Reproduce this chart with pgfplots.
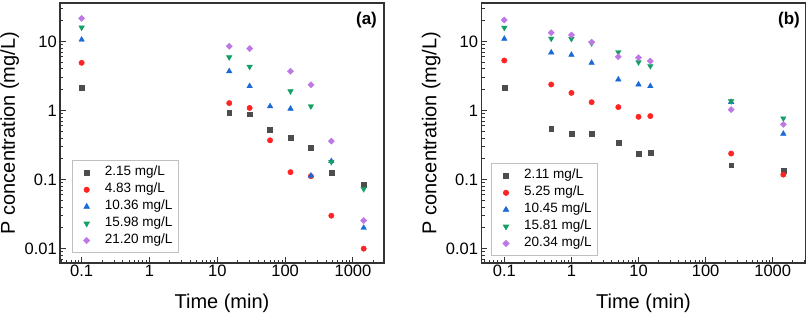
\documentclass[border=0pt]{standalone}
\usepackage{fontspec}
\setmainfont{Liberation Sans}
\usepackage{pgfplots}
\pgfplotsset{compat=1.18}
\definecolor{cBlack}{RGB}{77,77,77}
\definecolor{cRed}{RGB}{255,35,35}
\definecolor{cBlue}{RGB}{25,105,215}
\definecolor{cGreen}{RGB}{20,160,100}
\definecolor{cPurple}{RGB}{190,120,230}
\pgfplotsset{
  sBlack/.style={only marks, mark=square*, mark size=2.4pt, color=cBlack},
  sRed/.style={only marks, mark=*, mark size=2.7pt, color=cRed},
  sBlue/.style={only marks, mark=triangle*, mark size=3.2pt, color=cBlue},
  sGreen/.style={only marks, mark=triangle*, mark size=3.2pt, color=cGreen, mark options={rotate=180}},
  sPurple/.style={only marks, mark=square*, mark size=2.2pt, color=cPurple, mark options={rotate=45}},
}
\begin{document}
\begin{tikzpicture}
\path[use as bounding box] (-60pt,-54pt) rectangle (749pt,263pt);
\begin{axis}[xmode=log, ymode=log,
    scale only axis,
    height=260pt, width=324pt,
    at={(0pt,0pt)}, anchor=south west,
    xmin=0.048, xmax=2870,
    ymin=0.0062, ymax=36,
    axis line style={black!80, line width=1.1pt},
    every tick/.style={black!80, line width=0.9pt},
    major tick length=6pt, minor tick length=3.2pt,
    tick align=inside,
    xtick pos=bottom, ytick pos=left,
    xtick={0.1,1,10,100,1000},
    xticklabels={0.1,1,10,100,1000},
    minor xtick={0.05,0.06,0.07,0.08,0.09,0.2,0.3,0.4,0.5,0.6,0.7,0.8,0.9,2,3,4,5,6,7,8,9,20,30,40,50,60,70,80,90,200,300,400,500,600,700,800,900,2000},
    ytick={0.01,0.1,1,10},
    yticklabels={0.01,0.1,1,10},
    minor ytick={0.007,0.008,0.009,0.02,0.03,0.04,0.05,0.06,0.07,0.08,0.09,0.2,0.3,0.4,0.5,0.6,0.7,0.8,0.9,2,3,4,5,6,7,8,9,20,30},
    /pgf/number format/assume math mode=true,
    ticklabel style={font=\fontsize{16.5}{19}\selectfont},
    xticklabel style={inner sep=2pt},
    yticklabel style={inner sep=3pt},
    xlabel={Time (min)},
    ylabel={P concentration (mg/L)},
    every axis x label/.style={at={([yshift=-45pt]axis description cs:0.5,0)}, anchor=base, font=\fontsize{20}{24}\selectfont},
    every axis y label/.style={at={([xshift=-45pt]axis description cs:0,0.5)}, anchor=base, rotate=90, font=\fontsize{20}{24}\selectfont},
    legend cell align=left,
    legend image code/.code={\path[draw=none,fill=none] (0pt,-3pt) rectangle (27pt,3pt); \draw[#1] plot coordinates {(10.4pt,0pt)};},
    legend style={draw=gray!50, line width=0.6pt, font=\fontsize{13.5}{15}\selectfont,
      nodes={inner sep=1.6pt, text height=0.72em, text depth=0.2em},
      row sep=4.5pt, column sep=0pt, inner xsep=4pt, inner ysep=6pt,
      at={(rel axis cs:0,0)}, anchor=south west, xshift=12pt, yshift=10pt}]
\addplot[sBlack] coordinates {(0.1,2.15) (15,0.925) (30,0.885) (60,0.53) (120,0.40) (240,0.29) (480,0.125) (1440,0.085)};
\addlegendentry{2.15 mg/L}
\addplot[sRed] coordinates {(0.1,4.9) (15,1.28) (30,1.09) (60,0.37) (120,0.128) (240,0.112) (480,0.030) (1440,0.010)};
\addlegendentry{4.83 mg/L}
\addplot[sBlue] coordinates {(0.1,10.6) (15,3.7) (30,2.25) (60,1.15) (120,1.06) (240,0.114) (480,0.185) (1440,0.020)};
\addlegendentry{10.36 mg/L}
\addplot[sGreen] coordinates {(0.1,15.9) (15,5.9) (30,4.3) (120,1.9) (240,1.15) (480,0.18) (1440,0.073)};
\addlegendentry{15.98 mg/L}
\addplot[sPurple] coordinates {(0.1,21.5) (15,8.5) (30,7.9) (120,3.7) (240,2.36) (480,0.36) (1440,0.0255)};
\addlegendentry{21.20 mg/L}
\node[font=\fontsize{17}{20}\selectfont\bfseries] at (rel axis cs:0.946,0.935) {(a)};
\end{axis}
\begin{axis}[xmode=log, ymode=log,
    scale only axis,
    height=260pt, width=324.4pt,
    at={(421.3pt,0pt)}, anchor=south west,
    xmin=0.0454, xmax=3100,
    ymin=0.0062, ymax=36,
    axis line style={black!80, line width=1.1pt},
    every tick/.style={black!80, line width=0.9pt},
    major tick length=6pt, minor tick length=3.2pt,
    tick align=inside,
    xtick pos=bottom, ytick pos=left,
    xtick={0.1,1,10,100,1000},
    xticklabels={0.1,1,10,100,1000},
    minor xtick={0.05,0.06,0.07,0.08,0.09,0.2,0.3,0.4,0.5,0.6,0.7,0.8,0.9,2,3,4,5,6,7,8,9,20,30,40,50,60,70,80,90,200,300,400,500,600,700,800,900,2000,3000},
    ytick={0.01,0.1,1,10},
    yticklabels={0.01,0.1,1,10},
    minor ytick={0.007,0.008,0.009,0.02,0.03,0.04,0.05,0.06,0.07,0.08,0.09,0.2,0.3,0.4,0.5,0.6,0.7,0.8,0.9,2,3,4,5,6,7,8,9,20,30},
    /pgf/number format/assume math mode=true,
    ticklabel style={font=\fontsize{16.5}{19}\selectfont},
    xticklabel style={inner sep=2pt},
    yticklabel style={inner sep=3pt},
    xlabel={Time (min)},
    ylabel={P concentration (mg/L)},
    every axis x label/.style={at={([yshift=-45pt]axis description cs:0.5,0)}, anchor=base, font=\fontsize{20}{24}\selectfont},
    every axis y label/.style={at={([xshift=-45pt]axis description cs:0,0.5)}, anchor=base, rotate=90, font=\fontsize{20}{24}\selectfont},
    legend cell align=left,
    legend image code/.code={\path[draw=none,fill=none] (0pt,-3pt) rectangle (27pt,3pt); \draw[#1] plot coordinates {(10.4pt,0pt)};},
    legend style={draw=gray!50, line width=0.6pt, font=\fontsize{13.5}{15}\selectfont,
      nodes={inner sep=1.6pt, text height=0.72em, text depth=0.2em},
      row sep=4.5pt, column sep=0pt, inner xsep=4pt, inner ysep=6pt,
      at={(rel axis cs:0,0)}, anchor=south west, xshift=10pt, yshift=7pt}]
\addplot[sBlack] coordinates {(0.1,2.13) (0.5,0.54) (1,0.46) (2,0.46) (5,0.34) (10,0.236) (15,0.246) (240,0.161) (1440,0.136)};
\addlegendentry{2.11 mg/L}
\addplot[sRed] coordinates {(0.1,5.3) (0.5,2.38) (1,1.80) (2,1.32) (5,1.12) (10,0.81) (15,0.83) (240,0.238) (1440,0.118)};
\addlegendentry{5.25 mg/L}
\addplot[sBlue] coordinates {(0.1,10.9) (0.5,6.9) (1,6.4) (2,4.9) (5,2.81) (10,2.38) (15,2.25) (240,1.33) (1440,0.46)};
\addlegendentry{10.45 mg/L}
\addplot[sGreen] coordinates {(0.1,15.8) (0.5,11.0) (1,10.9) (2,9.4) (5,7.0) (10,5.0) (15,4.4) (240,1.36) (1440,0.77)};
\addlegendentry{15.81 mg/L}
\addplot[sPurple] coordinates {(0.1,20.4) (0.5,13.4) (1,12.4) (2,9.8) (5,6.0) (10,5.8) (15,5.2) (240,1.03) (1440,0.63)};
\addlegendentry{20.34 mg/L}
\node[font=\fontsize{17}{20}\selectfont\bfseries] at (rel axis cs:0.9485,0.935) {(b)};
\end{axis}
\end{tikzpicture}
\end{document}
